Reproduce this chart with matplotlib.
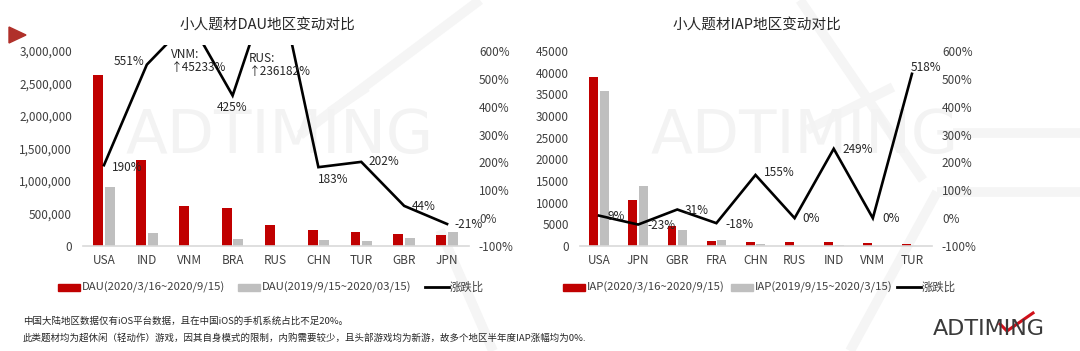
import matplotlib
matplotlib.use('Agg')
import matplotlib.pyplot as plt
from matplotlib.patches import Rectangle, Polygon
from matplotlib.lines import Line2D
from matplotlib.ticker import FuncFormatter, MultipleLocator
import numpy as np

plt.rcParams['font.family'] = ['Noto Sans CJK SC', 'DejaVu Sans']

# ---------------- data ----------------
dau_countries = ['USA', 'IND', 'VNM', 'BRA', 'RUS', 'CHN', 'TUR', 'GBR', 'JPN']
dau_current = [2630000, 1323000, 610000, 580000, 323000, 250000, 210000, 185000, 170000]
dau_previous = [912000, 203000, 1300, 110000, 140, 88000, 70000, 128000, 215000]
# VNM / RUS growth is far off the axis; drawn running off the top of the chart
dau_change_plot = [190, 551, 710, 440, 900, 183, 202, 44, -21]
dau_change_labels = ['190%', '551%', 'VNM:\n↑45233%', '425%', 'RUS:\n↑236182%',
                     '183%', '202%', '44%', '-21%']

iap_countries = ['USA', 'JPN', 'GBR', 'FRA', 'CHN', 'RUS', 'IND', 'VNM', 'TUR']
iap_current = [38900, 10600, 4700, 1200, 1000, 920, 900, 700, 530]
iap_previous = [35700, 13800, 3600, 1460, 400, 0, 260, 0, 86]
iap_change = [9, -23, 31, -18, 155, 0, 249, 0, 518]
iap_change_labels = ['9%', '-23%', '31%', '-18%', '155%', '0%', '249%', '0%', '518%']

titles = ['小人题材DAU地区变动对比', '小人题材IAP地区变动对比']
legend_dau = ['DAU(2020/3/16~2020/9/15)', 'DAU(2019/9/15~2020/03/15)', '涨跌比']
legend_iap = ['IAP(2020/3/16~2020/9/15)', 'IAP(2019/9/15~2020/3/15)', '涨跌比']
notes = ['中国大陆地区数据仅有iOS平台数据，且在中国iOS的手机系统占比不足20%。',
         '此类题材均为超休闲（轻动作）游戏，因其自身模式的限制，内购需要较少，且头部游戏均为新游，故多个地区半年度IAP涨幅均为0%.']

RED = '#C00000'
GRAY = '#BFBFBF'
W, H = 1080, 351

fig = plt.figure(figsize=(W / 100, H / 100), dpi=100)


def fx(x):
    return x / W


def fy(y):
    return 1 - y / H


# ---------- faint watermark (behind everything) ----------
wm = dict(color='#F5F5F5', lw=7, zorder=-5, solid_capstyle='butt')
for seg in [((480, 0), (300, 135)), ((440, 230), (493, 351)),
            ((800, 0), (923, 180)), ((937, 192), (850, 351)),
            ((937, 192), (1080, 192)), ((953, 133), (1080, 133)),
            ((807, 130), (893, 87)), ((367, 87), (330, 112))]:
    (x0, y0), (x1, y1) = seg
    fig.add_artist(Line2D([fx(x0), fx(x1)], [fy(y0), fy(y1)], transform=fig.transFigure, **wm))
for cx in [280, 805]:
    fig.text(fx(cx), fy(137), 'ADTIMING', ha='center', va='center', fontsize=44,
             color='#F3F3F3', family='DejaVu Sans', zorder=-5)


def make_chart(x_left, x_right, cats, cur, prev, change, labels, ymax_left, ystep,
               fmt_left, offsets, title, title_x, special=None):
    top, bottom = 45, 246
    ax = fig.add_axes([fx(x_left), fy(bottom), fx(x_right - x_left), (bottom - top) / H])
    ax.set_facecolor('none')
    x = np.arange(len(cats))
    bw = 0.23
    ax.bar(x - 0.135, cur, bw, color=RED, zorder=2)
    ax.bar(x + 0.135, prev, bw, color=GRAY, zorder=2)
    ax.set_xlim(-0.5, len(cats) - 0.5)
    ax.set_ylim(0, ymax_left)
    ax.yaxis.set_major_locator(MultipleLocator(ystep))
    ax.yaxis.set_major_formatter(FuncFormatter(fmt_left))
    ax.set_xticks(x)
    ax.set_xticklabels(cats)
    for s in ['top', 'right', 'left']:
        ax.spines[s].set_visible(False)
    ax.spines['bottom'].set_color('#D9D9D9')
    ax.spines['bottom'].set_linewidth(1.2)
    ax.tick_params(axis='both', length=0, labelsize=8.5, colors='#404040')
    ax.tick_params(axis='y', pad=7.5)
    ax.tick_params(axis='x', pad=6)

    ax2 = ax.twinx()
    ax2.set_ylim(-100, 621.5)
    ax2.set_yticks(np.arange(-100, 601, 100))
    ax2.yaxis.set_major_formatter(FuncFormatter(lambda v, p: f'{v:.0f}%'))
    for s in ax2.spines.values():
        s.set_visible(False)
    ax2.tick_params(axis='y', length=0, labelsize=8.5, colors='#404040', pad=7.5)
    ax2.plot(x, change, color='black', lw=1.9, zorder=3, solid_joinstyle='miter')
    for i, (v, lab, off) in enumerate(zip(change, labels, offsets)):
        if special and i in special:
            ax2.annotate(lab, xy=(i, 600), xytext=off, textcoords='offset pixels',
                         ha='left', va='center', fontsize=8.5, color='#262626',
                         linespacing=1.0, annotation_clip=False)
        else:
            ax2.annotate(lab, xy=(i, v), xytext=off, textcoords='offset pixels',
                         ha='center', va='center', fontsize=8.5, color='#262626',
                         annotation_clip=False)
    fig.text(fx(title_x), fy(25), title, ha='center', va='center', fontsize=10.5, color='#262626')
    return ax


dau_offsets = [(23, -2), (-18, 3), (-19, -10), (-1, -12), (-27, -14),
               (15, -12), (23, 0), (20, -1), (22, -1)]
make_chart(82.5, 468.5, dau_countries, dau_current, dau_previous, dau_change_plot,
           dau_change_labels, 3092308, 500000, lambda v, p: f'{v:,.0f}',
           dau_offsets, titles[0], 267, special={2, 4})

iap_offsets = [(17, -1), (23, -1), (19, -1), (23, -1), (24, 2),
               (17, 0), (24, -1), (18, 0), (14, 6)]
make_chart(579.5, 931.5, iap_countries, iap_current, iap_previous, iap_change,
           iap_change_labels, 46385, 5000, lambda v, p: f'{v:.0f}',
           iap_offsets, titles[1], 757)


# ---------- legends ----------
def legend(x0, x_gray, x_line, texts):
    yc = 287
    fig.add_artist(Rectangle((fx(x0), fy(yc + 3.5)), fx(22), 7 / H, color=RED,
                             transform=fig.transFigure))
    fig.text(fx(x0 + 24), fy(yc), texts[0], ha='left', va='center', fontsize=8.2, color='#404040')
    fig.add_artist(Rectangle((fx(x_gray), fy(yc + 3.5)), fx(22), 7 / H, color=GRAY,
                             transform=fig.transFigure))
    fig.text(fx(x_gray + 24), fy(yc), texts[1], ha='left', va='center', fontsize=8.2, color='#404040')
    fig.add_artist(Line2D([fx(x_line), fx(x_line + 24)], [fy(yc), fy(yc)], color='black',
                          lw=2, transform=fig.transFigure))
    fig.text(fx(x_line + 25), fy(yc), texts[2], ha='left', va='center', fontsize=8.2, color='#404040')


legend(58, 238, 425, legend_dau)
legend(563, 731, 897, legend_iap)

# ---------- notes ----------
fig.text(fx(23), fy(321), notes[0], ha='left', va='center', fontsize=6.8, color='#262626')
fig.text(fx(23), fy(338), notes[1], ha='left', va='center', fontsize=6.8, color='#262626')

# ---------- decorations ----------
fig.add_artist(Polygon([(fx(9), fy(27)), (fx(26), fy(35)), (fx(9), fy(43))],
                       closed=True, color='#B0302A', transform=fig.transFigure))
fig.text(fx(989), fy(329), 'ADTIMING', ha='center', va='center', fontsize=16,
         color='#3A3A3A', family='DejaVu Sans')
fig.add_artist(Line2D([fx(1000), fx(1007), fx(1033)], [fy(324), fy(331), fy(313)],
                      color='#D0101A', lw=2.2, transform=fig.transFigure))

fig.savefig('out.png', dpi=100)
